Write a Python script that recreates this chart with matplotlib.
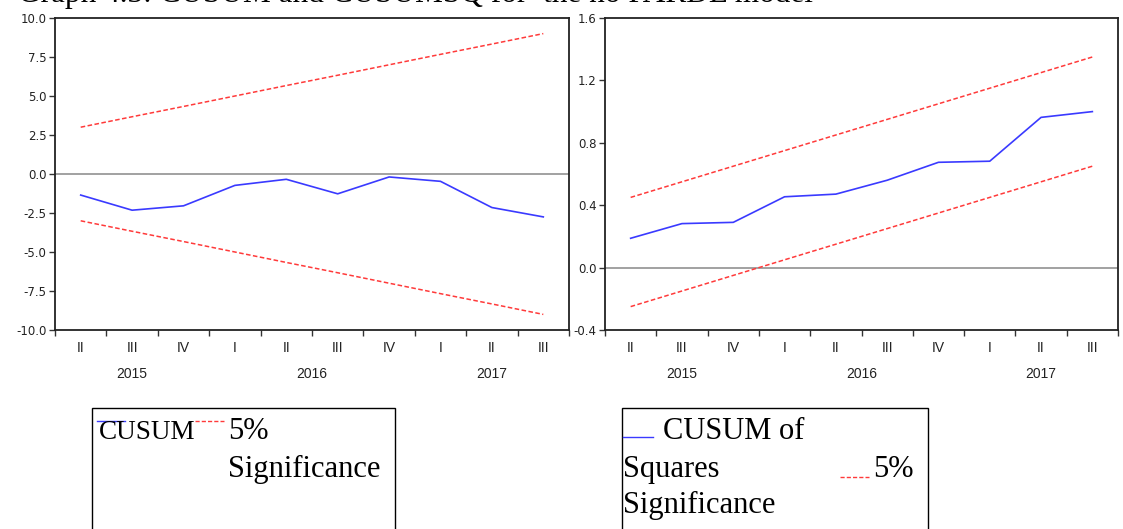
import numpy as np
import matplotlib
matplotlib.use("Agg")
import matplotlib.pyplot as plt
from matplotlib.lines import Line2D
from matplotlib.patches import Rectangle

quarters = ['II', 'III', 'IV', 'I', 'II', 'III', 'IV', 'I', 'II', 'III']
years = ['2015', '2016', '2017']
year_quarters = [[0, 1, 2], [3, 4, 5, 6], [7, 8, 9]]

cusum = [-1.35, -2.32, -2.04, -0.73, -0.34, -1.27, -0.19, -0.47, -2.15, -2.75]
cusum_upper = [3.0, 3.67, 4.33, 5.0, 5.67, 6.33, 7.0, 7.67, 8.33, 9.0]
cusum_lower = [-3.0, -3.67, -4.33, -5.0, -5.67, -6.33, -7.0, -7.67, -8.33, -9.0]

cusumsq = [0.188, 0.282, 0.290, 0.454, 0.471, 0.56, 0.675, 0.682, 0.963, 1.0]
cusumsq_upper = [0.45, 0.55, 0.65, 0.75, 0.85, 0.95, 1.05, 1.15, 1.25, 1.35]
cusumsq_lower = [-0.25, -0.15, -0.05, 0.05, 0.15, 0.25, 0.35, 0.45, 0.55, 0.65]

W, H = 1123, 529
fig = plt.figure(figsize=(W / 100, H / 100), dpi=100)

blue = '#3a3aff'
red = '#ff3a3a'
ytick_font = dict(family='DejaVu Sans', size=8.5, color='#222222')
xtick_font = dict(family='Liberation Sans', size=10, color='#222222')
serif = 'Liberation Serif'


def px(x, y):
    return x / W, 1 - y / H


def panel(rect, series, upper, lower, yticks):
    ax = fig.add_axes(rect)
    x = np.arange(len(series))
    ax.axhline(0, color='#9a9a9a', lw=1.3, zorder=1)
    ax.plot(x, series, color=blue, lw=1.2, zorder=3)
    ax.plot(x, upper, color=red, lw=1.1, ls=(0, (3, 1.6)), zorder=2)
    ax.plot(x, lower, color=red, lw=1.1, ls=(0, (3, 1.6)), zorder=2)
    ax.set_xlim(-0.5, len(series) - 0.5)
    ax.set_ylim(yticks[0], yticks[-1])
    ax.set_yticks(yticks)
    ax.set_yticklabels([f'{v:.1f}' for v in yticks], fontdict=ytick_font)
    ax.set_xticks(x)
    ax.set_xticklabels(quarters, fontdict=xtick_font)
    ax.set_xticks(np.arange(len(series) + 1) - 0.5, minor=True)
    ax.tick_params(axis='x', which='major', length=0, pad=8)
    ax.tick_params(axis='x', which='minor', length=4, width=1, color='#333333')
    ax.tick_params(axis='y', length=4, width=1, color='#333333', pad=2)
    for s in ax.spines.values():
        s.set_linewidth(1.3)
        s.set_color('#222222')
    for yr, qs in zip(years, year_quarters):
        ax.text(np.mean(qs), -0.141, yr, transform=ax.get_xaxis_transform(),
                ha='center', va='center', **xtick_font)
    return ax


panel([55 / W, 1 - 330 / H, 514 / W, 312 / H], cusum, cusum_upper, cusum_lower,
      [-10.0, -7.5, -5.0, -2.5, 0.0, 2.5, 5.0, 7.5, 10.0])
panel([605 / W, 1 - 330 / H, 513 / W, 312 / H], cusumsq, cusumsq_upper, cusumsq_lower,
      [-0.4, 0.0, 0.4, 0.8, 1.2, 1.6])

# title sits partly above the top edge, as in the source image
fig.text(*px(18, 2), 'Graph 4.3: CUSUM and CUSUMSQ for  the no PARDL model',
         family=serif, size=22.5, va='baseline', ha='left')

# legend boxes
for x0, x1 in [(92, 395), (622, 928)]:
    fig.patches.append(Rectangle(px(x0, 540), (x1 - x0) / W, 132 / H,
                                 transform=fig.transFigure, fill=False,
                                 lw=1, ec='black'))


def seg(x0, x1, y, color, ls):
    fig.lines.append(Line2D([x0 / W, x1 / W], [1 - y / H, 1 - y / H],
                            transform=fig.transFigure, color=color, lw=1, ls=ls))


def word(x, y, s, size=22):
    fig.text(*px(x, y), s, family=serif, size=size, va='baseline', ha='left')


seg(97, 125, 421, blue, '-')
word(99, 439, 'CUSUM', size=19.5)
seg(195, 224, 421, red, (0, (3, 1.5)))
word(228, 439, '5%')
word(228, 477, 'Significance')

seg(623, 653, 437, blue, '-')
word(663, 439, 'CUSUM of')
word(623, 477, 'Squares')
seg(840, 869, 477, red, (0, (3, 1.5)))
word(873, 477, '5%')
word(623, 513, 'Significance')

fig.savefig('out.png', dpi=100)
